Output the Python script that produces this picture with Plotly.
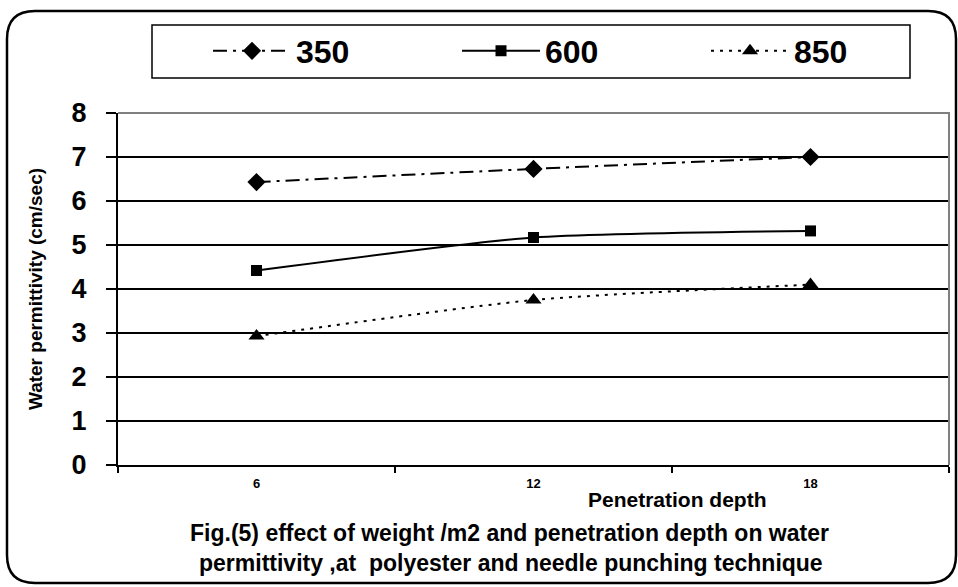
import plotly.graph_objects as go

# Penetration depth categories and water permittivity (cm/sec) per fabric weight (g/m2)
depth = ["6", "12", "18"]
w350 = [6.43, 6.73, 7.0]
w600 = [4.42, 5.17, 5.32]
w850 = [2.93, 3.75, 4.1]

W, H = 958, 587
L, R, T, B = 118, 9, 113, 122
pw, ph = W - L - R, H - T - B


def px(x):
    return (x - L) / pw


def py(y):
    return (H - B - y) / ph


fig = go.Figure()

series = [
    ("350", w350, "diamond", "14px,6px,3px,6px"),
    ("600", w600, "square", "solid"),
    ("850", w850, "triangle-up", "3px,6px"),
]
for name, vals, sym, dash in series:
    fig.add_trace(go.Scatter(
        x=depth, y=vals, name=name, mode="lines+markers",
        line=dict(color="black", width=2, dash=dash, shape="spline", smoothing=0.6),
        marker=dict(symbol=sym, size=14 if sym != "square" else 11, color="black"),
    ))

# rounded frame around the whole figure
x0, x1, y0, y1, r = 7, 956, 11, 583, 28
path = (
    f"M {px(x0)},{py(y0 + r)} "
    f"Q {px(x0)},{py(y0)} {px(x0 + r)},{py(y0)} "
    f"L {px(x1 - r)},{py(y0)} "
    f"Q {px(x1)},{py(y0)} {px(x1)},{py(y0 + r)} "
    f"L {px(x1)},{py(y1 - r)} "
    f"Q {px(x1)},{py(y1)} {px(x1 - r)},{py(y1)} "
    f"L {px(x0 + r)},{py(y1)} "
    f"Q {px(x0)},{py(y1)} {px(x0)},{py(y1 - r)} Z"
)
fig.add_shape(type="path", path=path, xref="paper", yref="paper",
              line=dict(color="black", width=2.5), layer="below")
# legend frame
fig.add_shape(type="rect", xref="paper", yref="paper",
              x0=px(152), x1=px(910), y0=py(78), y1=py(25),
              line=dict(color="black", width=1.5), layer="below")
# grey border of the plotting area (top and right)
fig.add_shape(type="path", xref="paper", yref="paper",
              path="M 0,1 L 1,1 L 1,0", line=dict(color="#808080", width=2))

fam = "Liberation Sans, Arial, sans-serif"


def bfont(size):
    return dict(family=fam, size=size, color="black", weight="bold")


def label(text, cx, cy, size):
    fig.add_annotation(text=text, xref="paper", yref="paper", x=px(cx), y=py(cy),
                       xanchor="center", yanchor="middle", showarrow=False,
                       font=bfont(size))


label("Penetration depth", 677, 499, 21)
label("Fig.(5) effect of weight /m2 and penetration depth on water", 509, 533, 23)
label("permittivity ,at  polyester and needle punching technique", 511, 563, 23)

fig.update_layout(
    width=W, height=H,
    margin=dict(l=L, r=R, t=T, b=B, autoexpand=False),
    paper_bgcolor="white", plot_bgcolor="white",
    showlegend=True,
    legend=dict(
        orientation="h", x=px(208), y=py(51), xanchor="left", yanchor="middle",
        borderwidth=0, bgcolor="rgba(0,0,0,0)",
        font=bfont(32),
        entrywidth=156, itemwidth=78,
    ),
    xaxis=dict(
        type="category", range=[-0.5, 2.5], tickson="boundaries", ticks="outside",
        ticklen=6, tickcolor="black", tickwidth=1.5, showline=True, linecolor="black",
        linewidth=2, showgrid=False, zeroline=False,
        tickfont=bfont(13), ticklabelstandoff=5,
    ),
    yaxis=dict(
        range=[0, 8], dtick=1, ticks="outside", ticklen=10, tickcolor="black",
        tickwidth=1.5, showline=True, linecolor="black", linewidth=2,
        showgrid=True, gridcolor="black", gridwidth=1.5, zeroline=False,
        tickfont=bfont(27), ticklabelstandoff=14,
        title=dict(text="Water permittivity (cm/sec)", standoff=24, font=bfont(19)),
    ),
)

fig.write_html("out.html")
